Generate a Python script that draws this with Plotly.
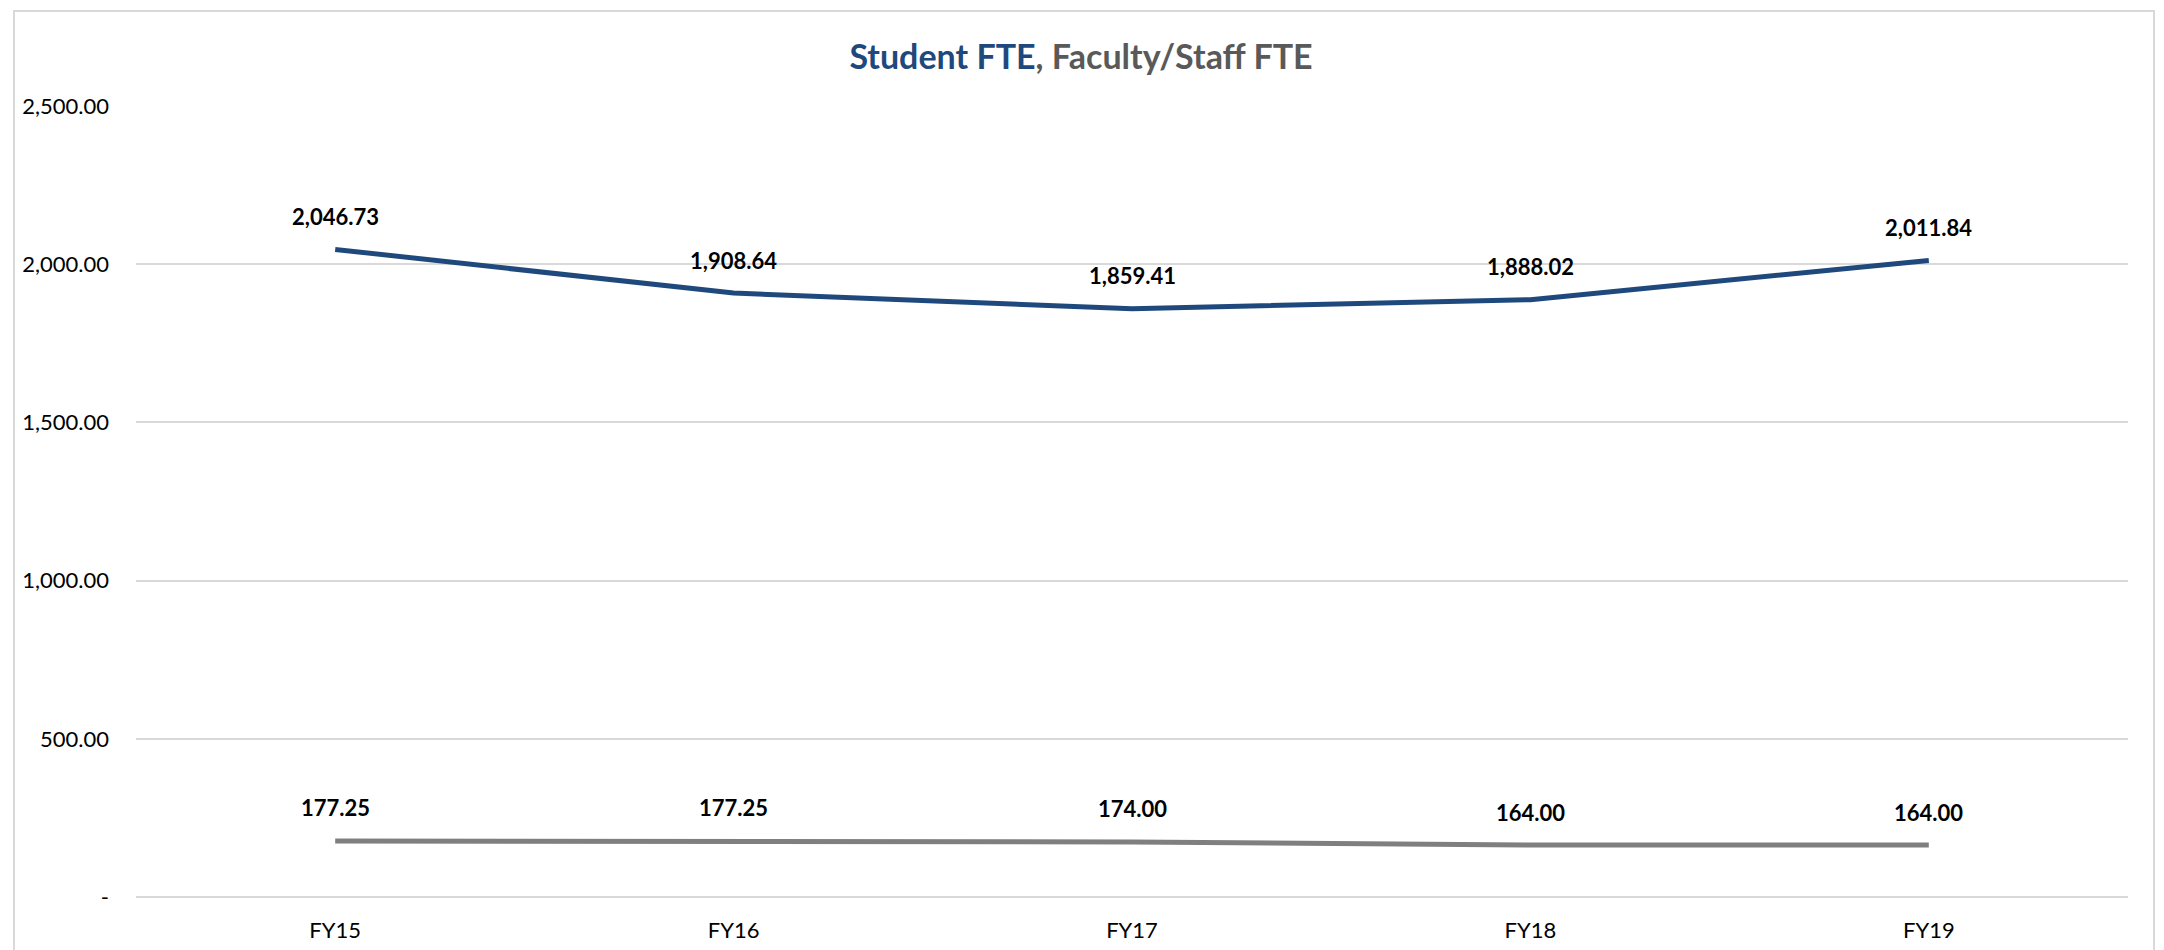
import plotly.graph_objects as go

categories = ["FY15", "FY16", "FY17", "FY18", "FY19"]
student_fte = [2046.73, 1908.64, 1859.41, 1888.02, 2011.84]
faculty_staff_fte = [177.25, 177.25, 174.00, 164.00, 164.00]
y_tick_values = [0, 500, 1000, 1500, 2000, 2500]
y_tick_labels = ["-", "500.00", "1,000.00", "1,500.00", "2,000.00", "2,500.00"]

BLUE = "#1F497D"
GRAY = "#7F7F7F"
FONT = "Lato"

# page body has an 8px margin; figure coordinates = page coordinates - 8
OFF = 8
W, H = 2164, 950
L = 136 - OFF
R = W - (2128 - OFF)
T = 106 - OFF
B = H - (897 - OFF)

fig = go.Figure()
fig.add_trace(go.Scatter(x=categories, y=student_fte, mode="lines",
                         line=dict(color=BLUE, width=5), name="Student FTE"))
fig.add_trace(go.Scatter(x=categories, y=faculty_staff_fte, mode="lines",
                         line=dict(color=GRAY, width=5), name="Faculty/Staff FTE"))

for series in (student_fte, faculty_staff_fte):
    for c, v in zip(categories, series):
        fig.add_annotation(x=c, y=v, text=f"<b>{v:,.2f}</b>", showarrow=False,
                           yshift=33, font=dict(family=FONT, size=22, color="#000000"))

pw = W - L - R
ph = H - T - B
def px_x(p):
    return (p - OFF - L) / pw
def px_y(p):
    return (H - B - (p - OFF)) / ph

fig.add_shape(type="rect", xref="paper", yref="paper",
              x0=px_x(14), x1=px_x(2154), y0=px_y(990), y1=px_y(11),
              line=dict(color="#D9D9D9", width=2), fillcolor="rgba(0,0,0,0)", layer="below")

fig.update_layout(
    width=W, height=H,
    margin=dict(l=L, r=R, t=T, b=B),
    paper_bgcolor="white", plot_bgcolor="white",
    showlegend=False,
    title=dict(
        text="<b><span style='color:#1F497D'>Student FTE</span>, Faculty/Staff FTE</b>",
        x=(1081 - OFF) / W, xanchor="center", y=1 - (57 - OFF) / H, yanchor="middle",
        font=dict(family=FONT, size=34, color="#595959"),
    ),
    xaxis=dict(type="category", range=[-0.5, 4.5], showgrid=False, zeroline=False,
               showline=False, ticks="", ticklabelstandoff=18,
               tickfont=dict(family=FONT, size=22, color="#000000")),
    yaxis=dict(range=[0, 2500], tickvals=y_tick_values, ticktext=y_tick_labels,
               showgrid=True, gridcolor="#D9D9D9", gridwidth=2, zeroline=True,
               zerolinecolor="#D9D9D9", zerolinewidth=2, showline=False, ticks="",
               ticklabelstandoff=26,
               tickfont=dict(family=FONT, size=22, color="#000000")),
)

fig.write_html("out.html")
